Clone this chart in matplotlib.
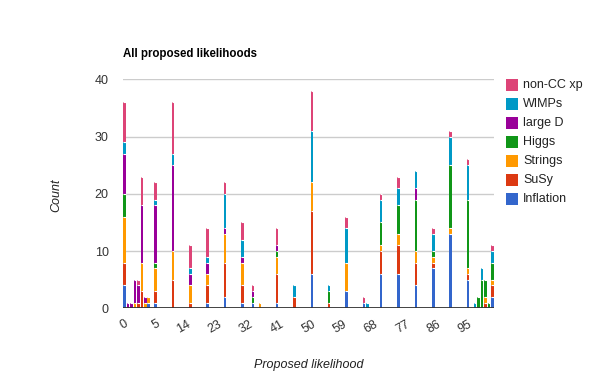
import numpy as np
import matplotlib.pyplot as plt
from matplotlib.patches import Rectangle

plt.rcParams['font.family'] = ['Liberation Sans', 'DejaVu Sans']

# category slots on the discrete x axis (107 rows, only some have data)
n_cats = 107
cat_idx = [0, 1, 2, 3, 4, 5, 6, 7, 9, 14, 19, 24, 29, 34, 37, 39, 44, 49, 54,
           59, 64, 69, 70, 74, 79, 84, 89, 94, 99, 101, 102, 103, 104, 105, 106]
tick_pos = [0, 9, 18, 27, 36, 45, 54, 63, 72, 81, 90, 99]
tick_labels = ["0", "5", "14", "23", "32", "41", "50", "59", "68", "77", "86", "95"]

inflation = [4, 0, 0, 0, 0, 0, 0, 1, 1, 0, 0, 1, 2, 1, 1, 0, 1, 0, 6,
             0, 3, 1, 0, 6, 6, 4, 7, 13, 5, 0, 0, 0, 0, 0, 2]
susy      = [4, 0, 0, 0, 1, 3, 0, 0, 2, 5, 1, 3, 6, 3, 0, 0, 5, 2, 11,
             1, 0, 0, 0, 4, 5, 4, 1, 0, 1, 0, 0, 0, 1, 0, 2]
strings   = [8, 0, 0, 1, 0, 5, 1, 1, 4, 5, 3, 2, 5, 4, 0, 1, 3, 0, 5,
             0, 5, 0, 0, 1, 2, 2, 1, 1, 1, 0, 0, 0, 1, 0, 1]
higgs     = [4, 0, 0, 0, 0, 0, 0, 0, 1, 0, 0, 0, 0, 0, 1, 0, 1, 0, 0,
             2, 0, 0, 0, 4, 5, 9, 1, 11, 12, 0, 2, 5, 3, 1, 3]
large_d   = [7, 1, 1, 4, 3, 10, 1, 0, 10, 15, 2, 2, 1, 1, 1, 0, 1, 0, 0,
             0, 0, 0, 0, 0, 0, 2, 0, 0, 0, 0, 0, 0, 0, 0, 0]
wimps     = [2, 0, 0, 0, 0, 0, 0, 0, 1, 2, 1, 1, 6, 3, 0, 0, 0, 2, 9,
             1, 6, 0, 1, 4, 3, 3, 3, 5, 6, 1, 0, 2, 0, 0, 2]
noncc     = [7, 0, 0, 0, 1, 5, 0, 0, 3, 9, 4, 5, 2, 3, 1, 0, 3, 0, 7,
             0, 2, 1, 0, 1, 2, 0, 1, 1, 1, 0, 0, 0, 0, 0, 1]

names = ["Inflation", "SuSy", "Strings", "Higgs", "large D", "WIMPs", "non-CC xp"]
series = [inflation, susy, strings, higgs, large_d, wimps, noncc]
colors = ["#3366cc", "#dc3912", "#ff9900", "#109618", "#990099", "#0099c6", "#dd4477"]

W, H = 600, 371
fig = plt.figure(figsize=(6, 3.71), dpi=100)
ax = fig.add_axes([122.7 / W, 62.7 / H, (494 - 122.7) / W, (308.3 - 79.3) / H])

bw = 0.72
x = np.array(cat_idx)
bottom = np.zeros(len(x))
for vals, c in zip(series, colors):
    v = np.array(vals, dtype=float)
    m = v > 0
    ax.bar(x[m], v[m], bottom=bottom[m], width=bw, color=c,
           linewidth=0, zorder=3)
    bottom += v
    # thin white gap above each segment
    ax.hlines(bottom[m], x[m] - bw / 2, x[m] + bw / 2, colors='white',
              linewidth=0.8, zorder=4)

ax.set_xlim(-0.5, n_cats - 0.5)
ax.set_ylim(0, 40)
ax.set_yticks([0, 10, 20, 30, 40])
for y in [10, 20, 30, 40]:
    ax.axhline(y, color='#cccccc', linewidth=1, zorder=1)
ax.axhline(0, color='#333333', linewidth=1.3, zorder=5)
for s in ax.spines.values():
    s.set_visible(False)

ax.set_xticks(tick_pos)
ax.set_xticklabels(tick_labels, rotation=30, ha='right', va='top',
                   rotation_mode='anchor')
ax.tick_params(axis='x', length=0, pad=7, labelsize=9, labelcolor='#333333')
ax.tick_params(axis='y', length=0, pad=10, labelsize=9, labelcolor='#333333')

fig.text(123 / W, 1 - 57 / H, "All proposed likelihoods", fontsize=8.3,
         fontweight='bold', color='black', va='baseline', ha='left')
fig.text(309 / W, 1 - 365 / H, "Proposed likelihood", fontsize=9,
         style='italic', color='#222222', ha='center', va='center')
fig.text(56 / W, 1 - 195 / H, "Count", fontsize=9, style='italic',
         color='#222222', rotation=90, ha='center', va='center')

# legend, top entry is the last series
for i, (name, c) in enumerate(zip(names[::-1], colors[::-1])):
    yc = 85 + i * 19
    fig.add_artist(Rectangle((506 / W, 1 - (yc + 5.8) / H), 11.7 / W, 11.7 / H,
                             transform=fig.transFigure, facecolor=c,
                             edgecolor='none'))
    fig.text(523 / W, 1 - yc / H, name, fontsize=9, color='#222222',
             ha='left', va='center')

fig.savefig("out.png", dpi=100)
